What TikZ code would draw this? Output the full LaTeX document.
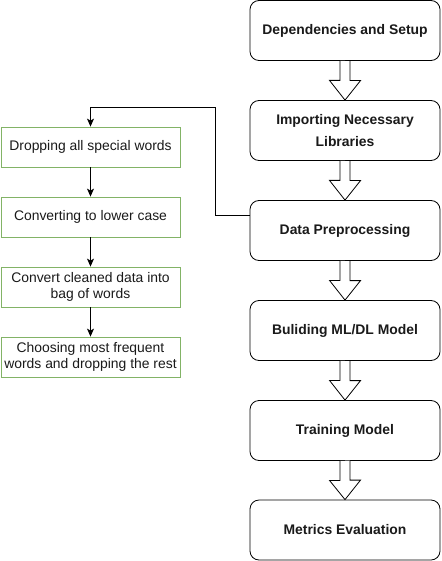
\documentclass[tikz,border=0pt]{standalone}
\usepackage{fontspec}
\setmainfont{Liberation Sans}
\usetikzlibrary{arrows.meta,calc}
\definecolor{grn}{HTML}{82B366}
\definecolor{txt}{HTML}{1A1A1A}
\tikzset{
  mainbox/.style={draw=black, rounded corners=9pt, fill=white, minimum width=190pt, minimum height=60pt, inner sep=0pt, align=center, font=\fontsize{13.9pt}{21.5pt}\selectfont\bfseries, text=txt, line width=0.8pt},
  subbox/.style={draw=grn, fill=white, minimum width=179pt, minimum height=40pt, inner sep=0pt, align=center, font=\fontsize{13.9pt}{16.7pt}\selectfont, text=txt, line width=0.8pt},
  blockarrow/.style={draw=black, fill=white, line width=0.8pt, line join=miter},
  conn/.style={draw=black, line width=0.8pt, -{Stealth[length=8pt,width=7pt,inset=2pt]}},
}
\begin{document}
\begin{tikzpicture}[x=1pt,y=-1pt]
\useasboundingbox (0,0) rectangle (441,561);
\node[mainbox] (b1) at (345,30.5) {Dependencies and Setup};
\node[mainbox] (b2) at (345,130.5) {Importing Necessary\\Libraries};
\node[mainbox] (b3) at (345,230.5) {Data Preprocessing};
\node[mainbox] (b4) at (345,330.5) {Buliding ML/DL Model};
\node[mainbox] (b5) at (345,430.5) {Training Model};
\node[mainbox] (b6) at (345,530) {Metrics Evaluation};
\foreach \a/\b in {b1/b2,b2/b3,b3/b4,b4/b5,b5/b6}{
  \draw[blockarrow] (\a.south) ++(-5,0) -- ++(0,19.5) -- ++(-10.5,0) -- (\b.north) -- ++(15.5,-19.5) -- ++(-10.5,0) -- ++(0,-19.5);
}
\node[subbox] (s1) at (90.5,147) {Dropping all special words};
\node[subbox] (s2) at (90.5,217) {Converting to lower case};
\node[subbox] (s3) at (90.5,287) {Convert cleaned data into\\bag of words};
\node[subbox] (s4) at (90.5,357) {Choosing most frequent\\words and dropping the rest};
\coordinate (c1) at (215.5,107.5);
\coordinate (c0) at ($(b3.west)+(0,-15)$);
\draw[conn] (c0) -- (c0 -| c1) -- (c1) -- (c1 -| s1.north) -- (s1.north);
\draw[conn] (s1) -- (s2);
\draw[conn] (s2) -- (s3);
\draw[conn] (s3) -- (s4);
\end{tikzpicture}
\end{document}
